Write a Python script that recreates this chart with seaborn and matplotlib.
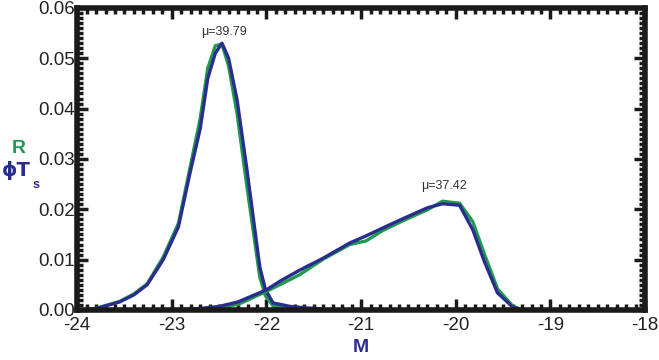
import numpy as np
import pandas as pd
import seaborn as sb
import matplotlib.pyplot as plt
from matplotlib.ticker import MultipleLocator, FormatStrFormatter

# bright peak (mu = 39.79)
m_peak1 = [-24.0, -23.8, -23.55, -23.4, -23.26, -23.09, -22.93, -22.81, -22.70, -22.62,
           -22.54, -22.47, -22.40, -22.31, -22.21, -22.07, -22.01, -21.93, -21.75, -21.57, -21.4]
blue_peak1 = [0.0, 0.0003, 0.0016, 0.003, 0.005, 0.010, 0.0165, 0.027, 0.036, 0.046,
              0.051, 0.053, 0.050, 0.0417, 0.0284, 0.0085, 0.004, 0.0014, 0.0007, 0.0004, 0.0002]
green_peak1 = [0.0, 0.0003, 0.0017, 0.0032, 0.0052, 0.0105, 0.0172, 0.028, 0.038, 0.048,
               0.0525, 0.0528, 0.0485, 0.039, 0.025, 0.0065, 0.0028, 0.0008, 0.0003, 0.0001, 0.0]

# faint peak (mu = 37.42)
m_peak2 = [-23.0, -22.7, -22.5, -22.3, -22.0, -21.85, -21.65, -21.4, -21.12, -20.95, -20.77,
           -20.55, -20.30, -20.14, -19.96, -19.82, -19.70, -19.56, -19.40, -19.3]
blue_peak2 = [0.0, 0.0003, 0.0007, 0.0016, 0.004, 0.0058, 0.0079, 0.0103, 0.0133, 0.0147, 0.0163,
              0.0182, 0.0203, 0.0211, 0.0208, 0.0159, 0.0097, 0.0034, 0.0006, 0.0]
green_peak2 = [0.0, 0.0002, 0.0005, 0.0011, 0.0037, 0.0051, 0.0070, 0.0101, 0.0130, 0.0137, 0.0158,
               0.0178, 0.0199, 0.0216, 0.0212, 0.0175, 0.0112, 0.0042, 0.0008, 0.0]

labels = ["\u03bc=39.79", "\u03bc=37.42"]
label_pos = [(-22.45, 0.0553), (-20.12, 0.0246)]

GREEN = "#1f9a4e"
BLUE = "#2b2d8e"

plt.rcParams['font.family'] = ['Liberation Sans', 'DejaVu Sans']
plt.rcParams['axes.unicode_minus'] = False
fig = plt.figure(figsize=(6.59, 3.6), dpi=100)
ax = fig.add_axes([0.117, 0.139, 0.862, 0.839])

sb.lineplot(x=m_peak1, y=green_peak1, color=GREEN, lw=2.4, ax=ax)
sb.lineplot(x=m_peak1, y=blue_peak1, color=BLUE, lw=2.4, ax=ax)
sb.lineplot(x=m_peak2, y=green_peak2, color=GREEN, lw=2.4, ax=ax)
sb.lineplot(x=m_peak2, y=blue_peak2, color=BLUE, lw=2.4, ax=ax)

for txt, (px, py) in zip(labels, label_pos):
    ax.text(px, py, txt, ha='center', va='center', fontsize=9, color='#333333')

ax.set_xlim(-24, -18)
ax.set_ylim(0, 0.06)
ax.xaxis.set_major_locator(MultipleLocator(1))
ax.xaxis.set_minor_locator(MultipleLocator(0.1))
ax.yaxis.set_major_locator(MultipleLocator(0.01))
ax.yaxis.set_minor_locator(MultipleLocator(0.001))
ax.yaxis.set_major_formatter(FormatStrFormatter('%.2f'))

ax.tick_params(which='both', direction='in', top=True, right=True, width=2.5,
               colors='#1a1a1a', labelsize=13.5, labelcolor='#222222')
ax.tick_params(which='major', length=8)
ax.tick_params(which='minor', length=4)
ax.tick_params(axis='x', which='major', pad=5)
ax.tick_params(axis='y', which='major', pad=1.5)
for s in ax.spines.values():
    s.set_linewidth(4)
    s.set_color('#1a1a1a')

ax.set_xlabel('M', fontsize=14, fontweight='bold', color=BLUE, labelpad=4)
fig.text(0.028, 0.588, 'R', color=GREEN, fontsize=14, fontweight='bold', ha='center', va='center')
fig.text(0.003, 0.525, '\u03d5T', color=BLUE, fontsize=14, fontweight='bold', ha='left', va='center',
         family=['DejaVu Sans'])
fig.text(0.050, 0.486, 's', color=BLUE, fontsize=9, fontweight='bold', ha='left', va='center')

fig.savefig('out.png', dpi=100)
